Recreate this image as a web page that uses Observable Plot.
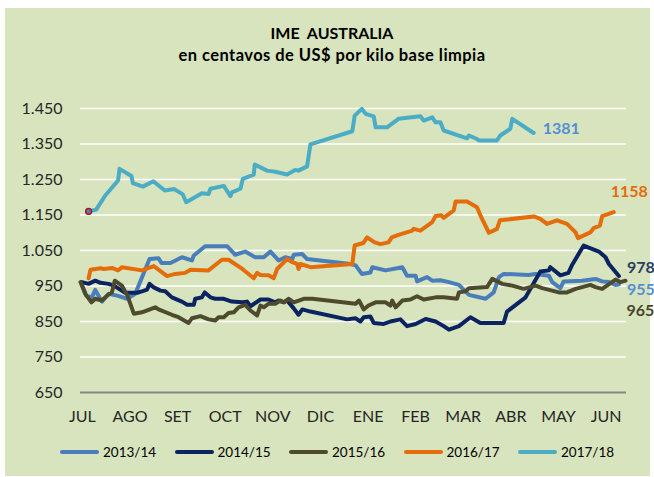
<!DOCTYPE html>
<html><head><meta charset="utf-8">
<script src="https://cdn.jsdelivr.net/npm/d3@7"></script>
<script src="https://cdn.jsdelivr.net/npm/@observablehq/plot@0.6"></script>
<style>
body{margin:0;background:#fff;font-family:Lato,"Open Sans",sans-serif;}
#frame{position:absolute;left:5px;top:8px;width:645px;height:468px;background:#d7e4bd;}
#title{position:absolute;left:0;top:21px;width:664px;text-align:center;font-weight:bold;color:#000;white-space:pre;}
#t1{font-size:16px;line-height:23px;}
#t2{font-size:16.5px;line-height:23px;letter-spacing:0.45px;}
#chart{position:absolute;left:0;top:80px;}
#legend{position:absolute;left:0;top:443px;width:654px;height:18px;}
.item{position:absolute;top:0;height:18px;display:flex;align-items:center;font-size:13.5px;color:#000;white-space:nowrap;}
.sw{width:39px;height:4px;border-radius:2px;margin-right:4px;}
</style></head><body>
<div id="frame"></div>
<div id="title"><div id="t1">IME  AUSTRALIA</div><div id="t2">en centavos de US$ por kilo base limpia</div></div>
<div id="chart"></div>
<div id="legend"></div>
<script>
const seasons = ["2013/14","2014/15","2015/16","2016/17","2017/18"];
const colors = ["#4a7ebb","#0b2461","#4d4a2e","#e46c0a","#4bacc6"];
const months = ["JUL","AGO","SET","OCT","NOV","DIC","ENE","FEB","MAR","ABR","MAY","JUN"];
const yTicks = [650,750,850,950,1050,1150,1250,1350,1450];
const endLabels = [
  {season:"2017/18", text:"1381"},
  {season:"2016/17", text:"1158"},
  {season:"2014/15", text:"978"},
  {season:"2013/14", text:"955"},
  {season:"2015/16", text:"965"}
];
// [month index (0 = JUL), value]
const s1314 = [[0.0,950],[0.08,923],[0.2,918],[0.27,939],[0.41,906],[0.55,928],[0.73,923],[0.94,914],[1.11,928],[1.41,1026],[1.6,1028],[1.66,1015],[1.85,1015],[2.09,1031],[2.3,1022],[2.34,1036],[2.58,1062],[3.04,1062],[3.21,1038],[3.42,1047],[3.63,1031],[3.81,1031],[3.95,1047],[4.12,1022],[4.26,1031],[4.41,1026],[4.44,1038],[4.62,1040],[4.72,1026],[5.63,1012],[5.74,1008],[5.87,984],[6.05,988],[6.09,1003],[6.37,994],[6.72,1003],[6.82,979],[7.0,979],[7.03,963],[7.24,975],[7.35,965],[7.52,966],[7.7,961],[7.91,953],[8.12,925],[8.47,914],[8.64,932],[8.75,975],[8.85,984],[9.37,981],[9.52,984],[9.8,979],[9.87,961],[10.04,944],[10.11,963],[10.5,965],[10.78,970],[10.92,963],[11.06,961],[11.2,953],[11.27,955]];
const s1415 = [[-0.01,961],[0.13,956],[0.27,965],[0.38,959],[0.55,956],[0.66,951],[0.9,931],[1.15,931],[1.25,935],[1.36,940],[1.41,956],[1.5,946],[1.64,937],[1.74,935],[1.88,918],[2.09,906],[2.2,897],[2.34,897],[2.37,914],[2.51,918],[2.57,932],[2.69,918],[2.79,914],[2.97,914],[3.14,906],[3.36,904],[3.46,906],[3.53,893],[3.74,912],[3.91,912],[4.05,904],[4.12,909],[4.23,904],[4.3,909],[4.44,887],[4.54,869],[4.62,884],[4.79,878],[5.56,856],[5.74,859],[5.84,850],[5.91,862],[6.05,864],[6.12,846],[6.33,843],[6.47,850],[6.68,856],[6.82,837],[7.0,843],[7.21,857],[7.42,850],[7.59,837],[7.7,827],[7.91,837],[8.15,862],[8.36,846],[8.85,846],[8.92,878],[9.31,918],[9.62,991],[9.8,994],[9.83,1003],[10.04,980],[10.21,987],[10.29,1010],[10.53,1064],[10.85,1047],[10.99,1031],[11.06,1012],[11.27,978]];
const s1516 = [[-0.04,961],[0.06,928],[0.19,904],[0.27,914],[0.41,909],[0.52,923],[0.62,932],[0.68,965],[0.83,951],[0.94,925],[1.08,872],[1.25,876],[1.53,890],[1.6,884],[1.88,869],[2.02,862],[2.23,846],[2.3,859],[2.48,865],[2.65,856],[2.79,853],[2.86,862],[2.97,862],[3.07,874],[3.18,876],[3.28,890],[3.42,897],[3.53,881],[3.67,867],[3.74,895],[3.81,890],[3.91,900],[4.05,900],[4.16,909],[4.23,904],[4.33,914],[4.44,904],[4.65,914],[4.83,914],[5.74,900],[5.81,909],[5.91,884],[6.01,895],[6.16,904],[6.37,904],[6.47,895],[6.51,909],[6.58,890],[6.72,909],[6.89,912],[7.03,921],[7.17,912],[7.42,918],[7.59,918],[7.87,914],[7.91,932],[8.05,935],[8.12,944],[8.5,947],[8.61,970],[8.82,956],[9.03,951],[9.27,942],[9.52,951],[9.66,944],[10.01,932],[10.18,932],[10.36,942],[10.5,947],[10.67,953],[10.78,947],[10.92,942],[11.2,968],[11.3,961],[11.41,965]];
const s1617 = [[0.13,972],[0.17,996],[0.38,1000],[0.45,998],[0.62,1001],[0.75,994],[0.83,1003],[1.25,994],[1.5,1006],[1.78,978],[1.95,984],[2.16,987],[2.27,996],[2.65,994],[2.93,1024],[3.07,1024],[3.36,998],[3.6,972],[3.67,987],[3.74,981],[3.91,980],[4.02,972],[4.09,998],[4.3,1026],[4.41,1017],[4.51,1012],[4.54,998],[4.58,1012],[4.79,1003],[5.67,1012],[5.72,1064],[5.9,1071],[5.98,1087],[6.14,1073],[6.26,1068],[6.43,1073],[6.5,1087],[6.64,1094],[6.93,1106],[6.96,1111],[7.1,1106],[7.35,1130],[7.42,1147],[7.54,1149],[7.59,1142],[7.8,1163],[7.84,1188],[8.08,1188],[8.29,1172],[8.36,1149],[8.54,1100],[8.71,1111],[8.77,1135],[9.48,1146],[9.62,1139],[9.76,1125],[9.97,1135],[10.18,1125],[10.36,1101],[10.41,1085],[10.67,1101],[10.74,1113],[10.87,1120],[10.92,1147],[11.16,1158]];
const s1718 = [[0.13,1160],[0.29,1165],[0.48,1205],[0.75,1247],[0.78,1280],[1.03,1260],[1.06,1240],[1.27,1230],[1.49,1245],[1.73,1219],[1.93,1223],[2.11,1208],[2.18,1186],[2.51,1211],[2.65,1209],[2.69,1224],[2.97,1232],[3.11,1203],[3.14,1214],[3.32,1224],[3.37,1252],[3.6,1264],[3.62,1292],[3.88,1275],[4.05,1272],[4.3,1264],[4.47,1277],[4.54,1275],[4.72,1287],[4.79,1349],[5.67,1386],[5.72,1430],[5.87,1449],[5.95,1435],[6.12,1428],[6.16,1397],[6.4,1397],[6.64,1421],[7.1,1428],[7.17,1416],[7.35,1425],[7.42,1411],[7.52,1411],[7.59,1388],[8.08,1366],[8.12,1374],[8.29,1364],[8.33,1360],[8.71,1360],[8.78,1374],[8.99,1393],[9.03,1421],[9.48,1381]];

const seriesData = [s1314, s1415, s1516, s1617, s1718];
const rows = seriesData.flatMap((s, i) => s.map(([m, v]) => ({season: seasons[i], m, v})));
const lastOf = name => { const s = seriesData[seasons.indexOf(name)]; return s[s.length - 1]; };
const firstTeal = [{m: s1718[0][0], v: s1718[0][1]}];

const labelStyle = {
  "2017/18": {fill:"#558ed5", dx:9, dy:-4},
  "2016/17": {fill:"#e46c0a", dx:-3, dy:-20},
  "2014/15": {fill:"#2b3d63", dx:8, dy:-8},
  "2013/14": {fill:"#558ed5", dx:8, dy:6},
  "2015/16": {fill:"#4a452a", dx:1, dy:30}
};

const fmt = d => d3.format(",")(d).replace(/,/g, ".");

const plot = Plot.plot({
  width: 654, height: 360,
  marginLeft: 80, marginRight: 28, marginTop: 28, marginBottom: 48,
  style: {background: "transparent", fontFamily: "Lato, 'Open Sans', sans-serif", fontSize: "16px", color: "#262626", overflow: "visible"},
  x: {domain: [-0.04, 11.43]},
  y: {domain: [650, 1450]},
  color: {domain: seasons, range: colors},
  marks: [
    Plot.ruleY(yTicks.slice(1), {stroke: "white", strokeWidth: 1.6}),
    Plot.ruleY([yTicks[0]], {stroke: "#868686", strokeWidth: 2}),
    Plot.axisY({ticks: yTicks, tickSize: 0, tickPadding: 18, tickFormat: fmt, label: null}),
    Plot.axisX({ticks: d3.range(months.length), tickSize: 0, tickPadding: 18, tickFormat: i => months[i], label: null}),
    Plot.line(rows, {x: "m", y: "v", z: "season", stroke: "season", strokeWidth: 4, strokeLinejoin: "round", strokeLinecap: "round"}),
    Plot.dot(firstTeal, {x: "m", y: "v", r: 3, fill: "#4a7ebb", stroke: "#c00000", strokeWidth: 1.2}),
    ...endLabels.map(l => {
      const [m, v] = lastOf(l.season);
      const st = labelStyle[l.season];
      return Plot.text([l], {x: () => m, y: () => v, text: "text", fill: st.fill, dx: st.dx, dy: st.dy, textAnchor: "start", fontWeight: "bold", fontSize: 16});
    })
  ]
});
document.getElementById("chart").appendChild(plot);

const legend = document.getElementById("legend");
seasons.forEach((s, i) => {
  const it = document.createElement("div");
  it.className = "item";
  it.style.left = (60 + i * 114.5) + "px";
  it.innerHTML = `<span class="sw" style="background:${colors[i]}"></span>${s}`;
  legend.appendChild(it);
});
</script>
</body></html>
